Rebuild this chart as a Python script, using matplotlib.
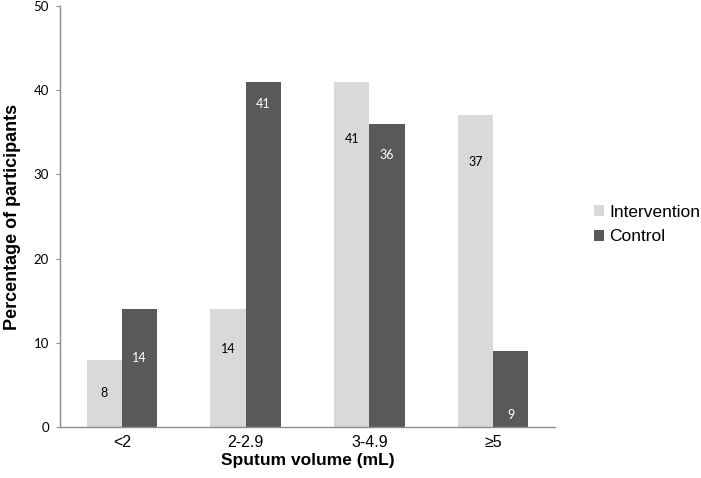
"""Bar chart of sputum volume by group."""
import numpy as np
import matplotlib
matplotlib.use("Agg")
import matplotlib.pyplot as plt

categories = ["<2", "2-2.9", "3-4.9", "≥5"]
intervention = [8, 14, 41, 37]
control = [14, 41, 36, 9]
# where the value labels sit inside the bars (data units)
intervention_label_y = [4.0, 9.3, 34.2, 31.5]
control_label_y = [8.2, 38.4, 32.3, 1.4]

LIGHT = "#d9d9d9"
DARK = "#595959"
AXIS = "#8c8c8c"

fig = plt.figure(figsize=(7.01, 4.78), dpi=100)
ax = fig.add_axes([0.0856, 0.1067, 0.706, 0.881])

x = np.arange(len(categories))
w = 0.285
ax.bar(x - w / 2, intervention, w, color=LIGHT, label="Intervention")
ax.bar(x + w / 2, control, w, color=DARK, label="Control")

for xi, v, ly in zip(x, intervention, intervention_label_y):
    ax.text(xi - w / 2, ly, str(v), ha="center", va="center",
            fontsize=9, family="Lato", color="black")
for xi, v, ly in zip(x, control, control_label_y):
    ax.text(xi + w / 2, ly, str(v), ha="center", va="center",
            fontsize=9, family="Lato", color="white")

ax.set_xlim(-0.5, len(categories) - 0.5)
ax.set_ylim(0, 50)
ax.set_yticks(range(0, 51, 10))
ax.set_xticks(x)
ax.set_xticklabels(categories, fontsize=11.5, family="Liberation Sans")
for lab in ax.get_yticklabels():
    lab.set_family("Lato")
    lab.set_fontsize(9.5)
ax.tick_params(axis="x", length=0, pad=6)
ax.tick_params(axis="y", length=3, color=AXIS, pad=5)

for side in ("top", "right"):
    ax.spines[side].set_visible(False)
for side in ("left", "bottom"):
    ax.spines[side].set_color(AXIS)
    ax.spines[side].set_linewidth(1.0)

ax.set_xlabel("Sputum volume (mL)", fontsize=12.5, fontweight="bold",
              family="Liberation Sans", labelpad=2)
ax.set_ylabel("Percentage of participants", fontsize=13, fontweight="bold",
              family="Liberation Sans", labelpad=9)

leg = fig.legend(loc="center left", bbox_to_anchor=(0.825, 0.53),
                 frameon=False, handlelength=0.6, handleheight=0.6,
                 handletextpad=0.3, labelspacing=0.55,
                 prop={"family": "Liberation Sans", "size": 12.5})

fig.savefig("out.png", dpi=100)
